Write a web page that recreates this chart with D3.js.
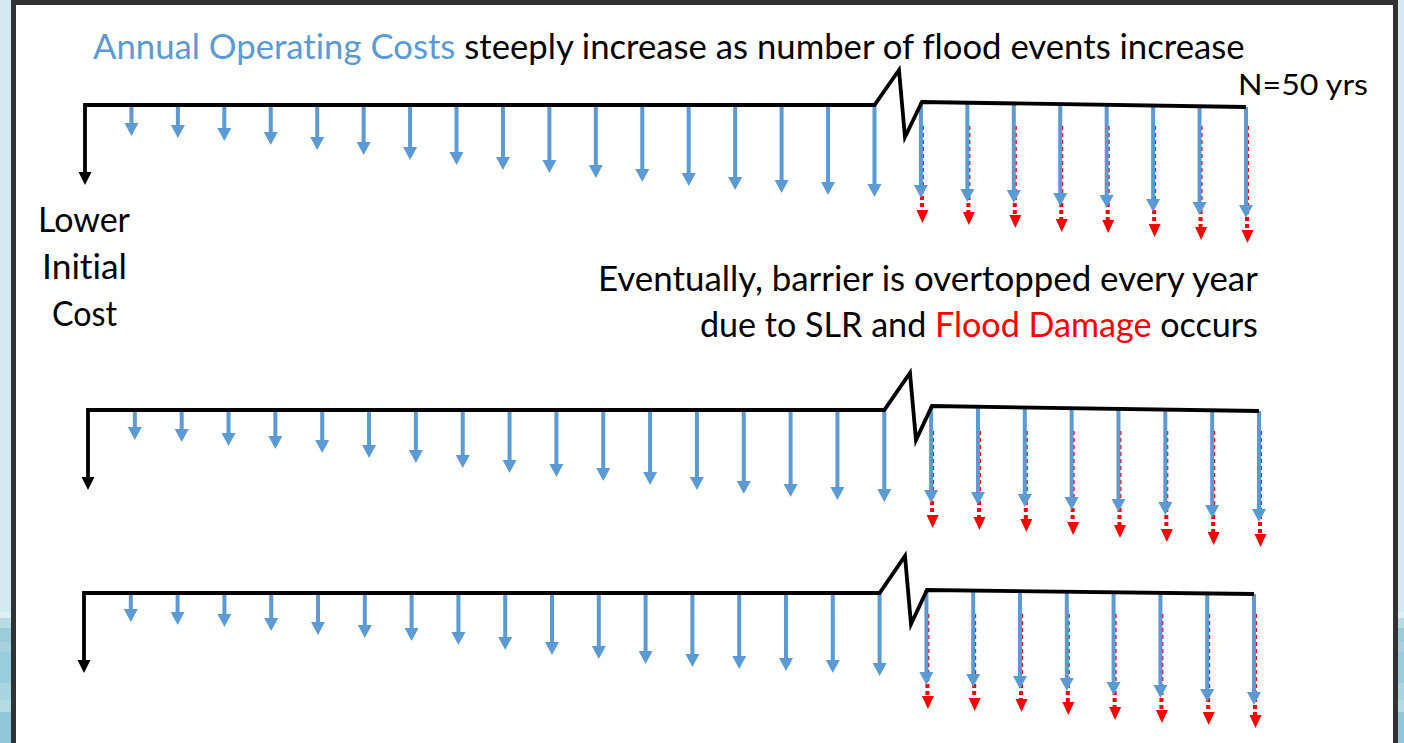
<!DOCTYPE html>
<html><head><meta charset="utf-8">
<script src="https://cdn.jsdelivr.net/npm/d3@7/dist/d3.min.js"></script>
<style>html,body{margin:0;padding:0;background:#fff;overflow:hidden}
text{font-variant-ligatures:none;font-feature-settings:"liga" 0,"clig" 0}</style>
</head><body>
<svg id="c" width="1404" height="743"></svg>
<script>
// ---------------- DATA ----------------
// Years shown on each cash-flow timeline (break between year 17 and year 43)
const yearLabels = [1,2,3,4,5,6,7,8,9,10,11,12,13,14,15,16,17,43,44,45,46,47,48,49,50];
const breakAfter = 17;               // number of years drawn before the axis break
const horizonLabel = "N=50 yrs";
// Annual operating cost (arrow length, cost units) per alternative
const opCostA = [31,33,36,40,45,50,55,60,65,68,73,77,81,85,88,90,92, 93,97,98,101,103,107,110,113];
const opCostB = [30,32,36,39,43,48,53,58,63,67,71,75,80,84,87,90,92, 93,95,97,100,102,105,108,112];
const opCostC = [29,32,34,38,42,45,48,52,57,62,66,71,74,76,78,80,83, 92,94,96,98,102,105,109,112];
// Flood damage (extra cost units beyond operating cost) in the last 8 years shown
const floodA = [25,23,25,26,25,25,25,25];
const floodB = [25,25,25,25,26,27,27,25];
const floodC = [24,24,23,24,25,25,23,23];
// Initial cost per alternative (downward arrow at year 0)
const initialCost = [80, 80, 80];

// ---------------- LAYOUT / STYLE ----------------
const W = 1404, H = 743;
const BLUE = "#5b9bd5", RED = "#ff0000";
const FONT = "Lato, 'Open Sans', sans-serif";
const layout = [
  {op: opCostA, flood: floodA, init: initialCost[0], y0: 105, xr: [85, 1246],
   zig: [[24.5,-35],[30.5,32],[47.5,-3]], endDy: 2},
  {op: opCostB, flood: floodB, init: initialCost[1], y0: 410, xr: [88, 1259],
   zig: [[25.7,-37],[31.7,30],[47.7,-4]], endDy: 1},
  {op: opCostC, flood: floodC, init: initialCost[2], y0: 593, xr: [84, 1254],
   zig: [[25.4,-37],[31.4,31],[47.4,-3]], endDy: 1}
];

const svg = d3.select("#c");

// ---- slide background & frame ----
svg.append("rect").attr("width", W).attr("height", H).attr("fill", "#d3eaf1");
const bandCols = [[612,"#dff0f5"],[618,"#b9dbe4"],[628,"#9dcbd8"],[642,"#a6d2de"],[652,"#98cddb"],[683,"#a8d5e0"],[700,"#b3dbe4"],[712,"#92c9d8"]];
bandCols.forEach(([y,c],i) => {
  const yEnd = i < bandCols.length-1 ? bandCols[i+1][0] : H;
  svg.append("rect").attr("x",0).attr("y",y).attr("width",W).attr("height",yEnd-y).attr("fill",c);
});
svg.append("rect").attr("x",11).attr("y",0).attr("width",1387).attr("height",H+10).attr("fill","#323232");
svg.append("rect").attr("x",16).attr("y",5).attr("width",1377).attr("height",H).attr("fill","#ffffff");

// scale for arrow lengths (cost units -> px)
const yLen = d3.scaleLinear().domain([0, 120]).range([0, 120]);

function head(g, x, tip, w, h, color) {
  g.append("path")
    .attr("d", `M${x-w/2},${tip-h}L${x+w/2},${tip-h}L${x},${tip}Z`)
    .attr("fill", color);
}

layout.forEach((p) => {
  const g = svg.append("g");
  const x = d3.scaleLinear().domain([0, yearLabels.length]).range(p.xr);
  const y0 = p.y0;
  const xb = x(breakAfter);
  const zx = p.zig.map(d => [xb + d[0], y0 + d[1]]);
  const xEnd = x(yearLabels.length);
  const afterY = d3.scaleLinear().domain([zx[2][0], xEnd]).range([zx[2][1], y0 + p.endDy]);

  // red flood-damage arrows (behind blue)
  p.flood.forEach((f, j) => {
    const i = breakAfter + j + 1;
    const xi = x(i);
    const blueTip = y0 + yLen(p.op[i-1]);
    const redTip = blueTip + yLen(f);
    g.append("line")
      .attr("x1", xi + 1).attr("x2", xi + 1)
      .attr("y1", y0 + 21).attr("y2", redTip - 11)
      .attr("stroke", RED).attr("stroke-width", 4)
      .attr("stroke-dasharray", "4,3");
    head(g, xi + 1.5, redTip, 12, 13, RED);
  });

  // blue operating-cost arrows
  p.op.forEach((v, k) => {
    const i = k + 1;
    const xi = x(i);
    const start = i <= breakAfter ? y0 : afterY(xi);
    const tip = y0 + yLen(v);
    g.append("line")
      .attr("x1", xi).attr("x2", xi)
      .attr("y1", start).attr("y2", tip - 11)
      .attr("stroke", BLUE).attr("stroke-width", 4);
    head(g, xi, tip, 14, 13, BLUE);
  });

  // black timeline with break and initial cost arrow
  const x0 = x(0);
  const initTip = y0 + yLen(p.init);
  g.append("path")
    .attr("d", d3.line()([[x0, initTip - 11], [x0, y0], [xb, y0], zx[0], zx[1], zx[2], [xEnd, y0 + p.endDy]]))
    .attr("fill", "none").attr("stroke", "#000").attr("stroke-width", 3.8)
    .attr("stroke-linejoin", "miter");
  head(g, x0, initTip, 13, 13, "#000");
});

// ---- texts ----
function fitText(parts, x, yBase, size, width, anchorRight) {
  const t = svg.append("text")
    .attr("font-family", FONT).attr("font-size", size)
    .attr("x", 0).attr("y", 0);
  parts.forEach(([s, c]) => t.append("tspan").text(s).attr("fill", c));
  const w = t.node().getComputedTextLength();
  const k = width / w;
  const left = anchorRight ? x - width : x;
  t.attr("transform", `translate(${left},${yBase}) scale(${k},1)`);
}
fitText([["Annual Operating Costs", BLUE], [" steeply increase as number of flood events increase", "#000"]], 93, 59, 34, 1152);
fitText([[horizonLabel, "#000"]], 1238, 95, 28, 130);
fitText([["Lower", "#000"]], 38, 232, 34, 92);
fitText([["Initial", "#000"]], 42, 279, 34, 85);
fitText([["Cost", "#000"]], 52, 326, 34, 65);
fitText([["Eventually, barrier is overtopped every year", "#000"]], 1258, 291, 34, 660, true);
fitText([["due to SLR and ", "#000"], ["Flood Damage", RED], [" occurs", "#000"]], 1258, 337, 34, 558, true);
</script>
</body></html>
